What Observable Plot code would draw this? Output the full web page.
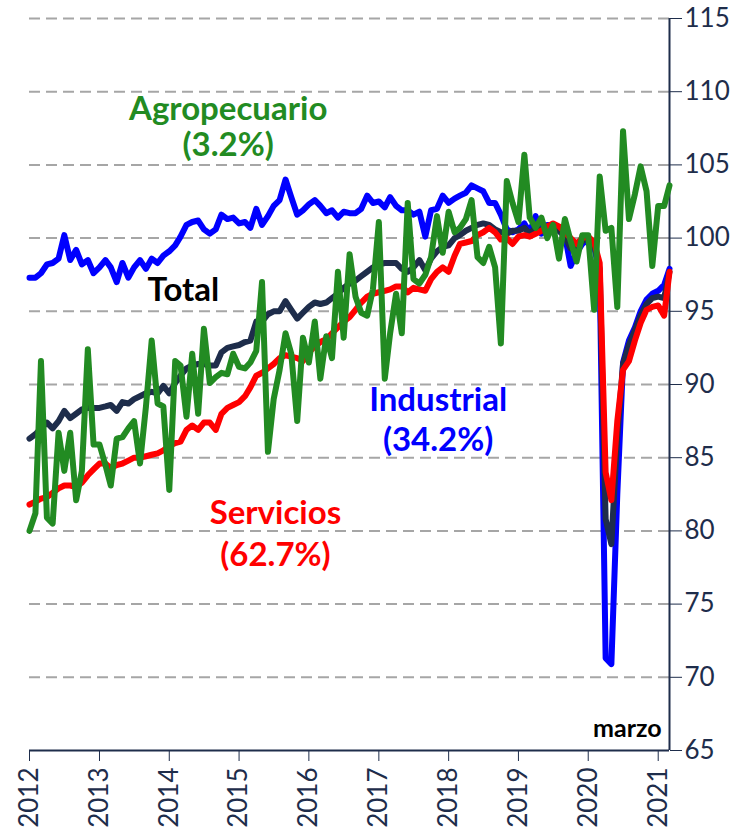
<!DOCTYPE html>
<html>
<head>
<meta charset="utf-8">
<script src="https://cdn.jsdelivr.net/npm/d3@7"></script>
<script src="https://cdn.jsdelivr.net/npm/@observablehq/plot@0.6"></script>
<style>
  html, body { margin: 0; padding: 0; background: #ffffff; }
  #chart svg { display: block; }
</style>
</head>
<body>
<div id="chart"></div>
<script>
// Monthly series, January 2012 to March 2021
const total = [
  86.3, 86.6, 87.0, 87.4, 87.0, 87.5, 88.2, 87.7, 88.0, 88.3, 88.4, 88.4,
  88.4, 88.5, 88.6, 88.2, 88.8, 88.7, 89.0, 89.2, 89.4, 89.5, 89.4, 89.9,
  89.4, 90.1, 90.6, 91.1, 91.3, 91.4, 91.4, 91.3, 91.3, 92.2, 92.5, 92.6,
  92.7, 92.9, 93.0, 94.3, 94.3, 94.8, 95.0, 95.0, 95.7, 95.1, 94.5, 94.9,
  95.3, 95.6, 95.5, 95.6, 95.9, 96.2, 96.6, 96.9, 97.1, 97.4, 97.7, 98.0,
  98.2, 98.3, 98.3, 98.3, 97.9, 97.7, 98.0, 98.5, 97.8, 98.6, 99.1, 99.4,
  99.5, 100.0, 100.2, 100.5, 100.7, 100.9, 101.0, 100.9, 100.6, 100.4, 100.3, 100.5,
  100.5, 100.7, 100.3, 100.7, 100.5, 100.8, 100.8, 100.5, 100.1, 99.3, 99.4, 99.8,
  100.0, 99.6, 97.9, 80.8, 79.1, 86.5, 91.4, 92.7, 93.7, 94.7, 95.5, 95.9,
  96.0, 95.9, 97.7
];
const industrial = [
  97.3, 97.3, 97.6, 98.2, 98.3, 98.6, 100.2, 98.5, 99.2, 98.2, 98.5, 97.6,
  98.0, 98.5, 98.0, 97.0, 98.3, 97.3, 98.0, 98.5, 97.9, 98.6, 98.3, 98.8,
  99.1, 99.5, 100.1, 100.9, 101.1, 101.2, 100.6, 100.3, 100.6, 101.6, 101.3, 101.4,
  101.0, 101.1, 100.7, 102.0, 100.9, 101.5, 102.2, 102.6, 104.0, 102.8, 101.6, 101.9,
  102.3, 102.6, 102.2, 101.7, 101.9, 101.4, 101.8, 101.7, 101.7, 102.0, 102.9, 102.4,
  102.5, 102.1, 102.8, 102.2, 101.9, 101.9, 101.6, 101.8, 100.1, 101.9, 102.0, 102.9,
  102.4, 102.7, 102.9, 103.1, 103.6, 103.4, 103.2, 102.4, 102.4, 101.6, 100.6, 100.4,
  100.6, 101.0, 100.4, 101.5, 100.3, 100.9, 100.9, 100.5, 100.2, 98.1, 99.0, 99.6,
  99.9, 99.4, 97.6, 71.3, 70.9, 82.5, 91.5, 93.0, 93.9, 95.0, 95.8, 96.2,
  96.4, 96.8, 97.9
];
const servicios = [
  81.8, 82.0, 82.2, 82.3, 82.6, 82.9, 83.1, 83.1, 83.0, 83.3, 83.8, 84.2,
  84.6, 84.6, 84.3, 84.5, 84.6, 84.8, 85.0, 85.0, 85.1, 85.2, 85.3, 85.5,
  85.8, 86.0, 86.1, 86.9, 87.2, 86.9, 87.4, 87.4, 86.9, 88.0, 88.4, 88.6,
  88.8, 89.2, 89.8, 90.6, 90.8, 91.1, 91.4, 91.8, 92.0, 91.9, 91.8, 91.6,
  92.2, 92.6, 92.9, 93.1, 93.5, 93.9, 94.3, 94.6, 95.1, 95.6, 96.0, 96.2,
  96.3, 96.4, 96.5, 96.7, 96.7, 96.3, 96.6, 96.5, 96.4, 97.2, 97.7, 98.0,
  97.7, 98.8, 99.6, 99.7, 99.8, 100.2, 100.4, 100.7, 100.4, 99.9, 100.0, 99.6,
  100.1, 100.2, 100.1, 100.3, 100.5, 100.8, 101.0, 100.8, 100.4, 100.0, 99.6, 100.0,
  100.1, 99.7, 98.3, 84.0, 82.1, 87.5, 91.0, 91.6, 93.0, 94.2, 95.1, 95.3,
  95.4, 94.7, 97.7
];
const agropecuario = [
  80.0, 81.2, 91.6, 80.9, 80.5, 86.7, 84.1, 86.7, 82.1, 84.1, 92.4, 85.9,
  85.9, 84.5, 83.1, 86.3, 86.4, 87.0, 87.5, 84.6, 88.5, 93.0, 88.7, 88.5,
  82.8, 91.6, 91.3, 87.8, 92.1, 88.0, 93.8, 90.1, 90.5, 90.8, 90.7, 92.1,
  91.2, 91.1, 91.5, 92.3, 97.0, 85.4, 89.0, 91.0, 93.5, 92.1, 87.5, 93.2,
  91.5, 94.3, 90.4, 93.3, 91.8, 97.7, 93.2, 98.9, 96.0, 94.9, 94.7, 96.5,
  101.1, 90.4, 93.5, 96.2, 93.5, 102.4, 97.2, 96.9, 97.5, 98.7, 101.5, 99.0,
  101.8, 100.4, 100.7, 101.3, 102.6, 98.7, 98.3, 99.4, 98.0, 92.8, 103.9, 102.4,
  101.1, 105.7, 101.4, 100.7, 101.4, 100.0, 100.9, 98.6, 101.3, 99.8, 98.4, 100.2,
  100.2, 95.1, 104.2, 100.5, 100.7, 95.3, 107.3, 101.3, 103.0, 104.9, 103.2, 98.1,
  102.2, 102.2, 103.6
];
const yearTicks = [2012, 2013, 2014, 2015, 2016, 2017, 2018, 2019, 2020, 2021];
const yTicks = [65, 70, 75, 80, 85, 90, 95, 100, 105, 110, 115];

const months = total.map((_, i) => new Date(Date.UTC(2012, i, 1)));
const rows = months.map((date, i) => ({
  date, total: total[i], industrial: industrial[i],
  servicios: servicios[i], agropecuario: agropecuario[i]
}));
const yearDates = yearTicks.map(y => new Date(Date.UTC(y, 0, 1)));

const navy = "#1e2d4b";
const labels = [
  {text: "Agropecuario", date: new Date(Date.UTC(2014, 10, 5)), value: 108.8, color: "#228b22"},
  {text: "(3.2%)",       date: new Date(Date.UTC(2014, 10, 5)), value: 106.3, color: "#228b22"},
  {text: "Total",        date: new Date(Date.UTC(2014, 2, 16)), value: 96.45, color: "#000000"},
  {text: "Industrial",   date: new Date(Date.UTC(2017, 10, 7)), value: 88.9, color: "#0000ff"},
  {text: "(34.2%)",      date: new Date(Date.UTC(2017, 10, 7)), value: 86.2, color: "#0000ff"},
  {text: "Servicios",    date: new Date(Date.UTC(2015, 6, 10)), value: 81.2, color: "#ff0000"},
  {text: "(62.7%)",      date: new Date(Date.UTC(2015, 6, 10)), value: 78.3, color: "#ff0000"}
];
const note = [{text: "marzo", date: new Date(Date.UTC(2021, 0, 19)), value: 66.45}];

const chart = Plot.plot({
  width: 755,
  height: 837,
  marginLeft: 29,
  marginRight: 86,
  marginTop: 18,
  marginBottom: 87,
  style: {fontFamily: "Lato, 'Open Sans', sans-serif", fontSize: "26px", color: navy, background: "#ffffff"},
  x: {
    type: "utc",
    domain: [months[0], months[months.length - 1]],
    ticks: yearDates,
    tickFormat: d3.utcFormat("%Y"),
    tickSize: 11,
    tickPadding: 6,
    tickRotate: -90,
    label: null
  },
  y: {
    domain: [65, 115],
    axis: "right",
    ticks: yTicks,
    tickSize: 12,
    tickPadding: 3,
    label: null
  },
  marks: [
    Plot.ruleY(yTicks.slice(1), {stroke: "#a6a6a6", strokeWidth: 2, strokeDasharray: "11,6"}),
    Plot.ruleY([yTicks[0]], {stroke: navy, strokeWidth: 2}),
    Plot.ruleX([months[months.length - 1]], {stroke: navy, strokeWidth: 2}),
    Plot.line(rows, {x: "date", y: "industrial", stroke: "#0000ff", strokeWidth: 6, strokeLinejoin: "round"}),
    Plot.line(rows, {x: "date", y: "total", stroke: navy, strokeWidth: 6, strokeLinejoin: "round"}),
    Plot.line(rows, {x: "date", y: "servicios", stroke: "#ff0000", strokeWidth: 6, strokeLinejoin: "round"}),
    Plot.line(rows, {x: "date", y: "agropecuario", stroke: "#228b22", strokeWidth: 6, strokeLinejoin: "round"}),
    Plot.text(labels, {x: "date", y: "value", text: "text", fill: "color", fontSize: 33, fontWeight: "bold"}),
    Plot.text(note, {x: "date", y: "value", text: "text", fill: "#000000", fontSize: 25, fontWeight: "bold", textAnchor: "end"})
  ]
});
document.getElementById("chart").appendChild(chart);
</script>
</body>
</html>
